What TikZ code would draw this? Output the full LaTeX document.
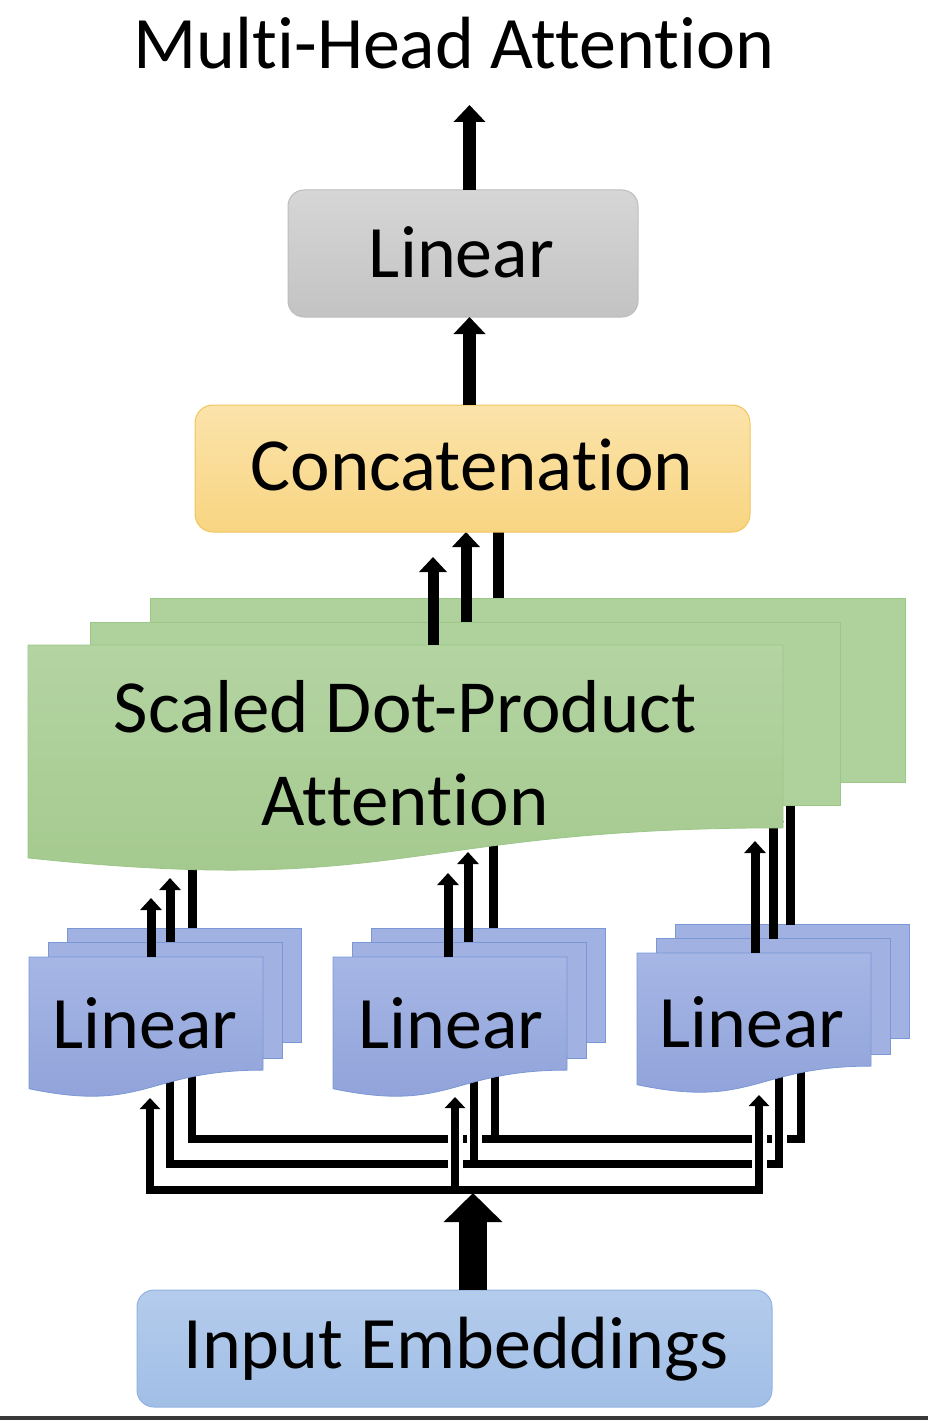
\documentclass[tikz,border=0pt]{standalone}
\usepackage{fontspec}
\setmainfont{Carlito}[Ligatures=NoCommon]
\usetikzlibrary{arrows.meta,shadings}
\definecolor{grayT}{HTML}{D6D6D6}
\definecolor{grayB}{HTML}{C3C3C3}
\definecolor{grayE}{HTML}{BDBDBD}
\definecolor{catT}{HTML}{FBE3AA}
\definecolor{catB}{HTML}{F8D582}
\definecolor{catE}{HTML}{F3C55C}
\definecolor{grnT}{HTML}{B4D4A2}
\definecolor{grnB}{HTML}{A3C98D}
\definecolor{grnL}{HTML}{AFD19C}
\definecolor{grnE}{HTML}{9DC689}
\definecolor{bluT}{HTML}{A6B6E5}
\definecolor{bluB}{HTML}{8FA1D9}
\definecolor{bluL}{HTML}{A0B1E2}
\definecolor{bluE}{HTML}{7A97D6}
\definecolor{inpT}{HTML}{B4CCEC}
\definecolor{inpB}{HTML}{A1BEE6}
\definecolor{inpE}{HTML}{92B3E0}
% document shape: style, x0, y0, w, h
\newcommand\mhdoc[5]{%
  \path[#1] (#2,#3) -- ({#2+#4},#3) -- ({#2+#4},{#3+0.802*#5})
    .. controls ({#2+0.5*#4},{#3+0.802*#5}) and ({#2+0.5*#4},{#3+1.1075*#5})
    .. (#2,{#3+0.934*#5}) -- cycle;}
% stack of three Linear layers: x0, y0 of the front layer
\newcommand\mhstack[2]{%
  \path[bluback] ({#1+38},{#2-29}) rectangle ({#1+272},{#2+85});
  \path[bluback] ({#1+19},{#2-15}) rectangle ({#1+253},{#2+101});
  \mhdoc{blufront}{#1}{#2}{234}{141}}
\begin{document}
\begin{tikzpicture}[x=1pt,y=-1pt,
  lbl/.style={font=\fontsize{74}{88}\selectfont, inner sep=0pt, anchor=base, text=black},
  lblw/.style={font=\fontsize{75}{88}\selectfont, inner sep=0pt, anchor=base, text=black},
  ttl/.style={font=\fontsize{74}{88}\selectfont, inner sep=0pt, anchor=base, text=black},
  rbox/.style={line width=1pt, inner sep=0pt},
  tipTop/.tip={Triangle[width=31pt,length=17pt]},
  tipCat/.tip={Triangle[width=27pt,length=15pt]},
  tipLin/.tip={Triangle[width=21pt,length=12pt]},
  tipBus/.tip={Triangle[width=20pt,length=11pt]},
  tipBig/.tip={Triangle[width=57pt,length=29pt]},
  topar/.style={line width=13pt, arrows=-tipTop},
  catar/.style={line width=11pt, arrows=-tipCat},
  linar/.style={line width=9pt, arrows=-tipLin},
  busar/.style={line width=8.5pt, line join=miter, arrows=tipBus-tipBus},
  busup/.style={line width=8.5pt, arrows=-tipBus},
  casing/.style={draw=white, line width=15pt, line join=miter, arrows=-},
  bigar/.style={line width=28pt, arrows=-tipBig},
  bluback/.style={fill=bluL, draw=bluE, line width=0.8pt},
  blufront/.style={top color=bluT, bottom color=bluB, draw=bluE, line width=0.8pt},
  grnback/.style={fill=grnL, draw=grnE, line width=0.8pt},
  grnfront/.style={top color=grnT, bottom color=grnB, draw=grnE, line width=0.8pt}
]
\useasboundingbox (0,0) rectangle (928,1420);
\fill[white] (0,0) rectangle (928,1420);
\fill[black!78] (0,1416) rectangle (928,1420);

% ---- input embeddings
\node[rbox, rounded corners=17pt, draw=inpE, top color=inpT, bottom color=inpB,
      minimum width=635pt, minimum height=117pt] (inp) at (454.5,1348.5) {};
\node[lbl] (inpText) at (456,1368) {Input Embeddings};

% ---- bus coordinates
\coordinate (jt) at (495,1139);
\coordinate (tL) at (192,1058);
\coordinate (tR) at (801,1056);
\coordinate (tM) at (495,1058);
\coordinate (jm) at (474,1164);
\coordinate (mL) at (170,1060);
\coordinate (mR) at (779,1058);
\coordinate (mM) at (474,1060);
\coordinate (jb) at (455,1190);
\coordinate (bL) at (150,1098);
\coordinate (bR) at (759,1095);
\coordinate (bM) at (455,1097);

% top bus
\draw[casing] (tL) |- (jt) -| (tR);
\draw[casing] (jt) -- (tM);
\draw[busar] (tL) |- (jt) -| (tR);
\draw[busup] (jt) -- (tM);
% middle bus
\draw[casing] (mL) |- (jm) -| (mR);
\draw[casing] (jm) -- (mM);
\draw[busar] (mL) |- (jm) -| (mR);
\draw[busup] (jm) -- (mM);
% bottom bus
\draw[casing] (bL) |- (jb) -| (bR);
\draw[casing] (jb) -- (bM);
\draw[busar] (bL) |- (jb) -| (bR);
\draw[busup] (jb) -- (bM);

% big input arrow
\coordinate (bigS) at (473,1290);
\coordinate (bigE) at (473,1193);
\draw[bigar] (bigS) -- (bigE);

% ---- Linear stacks
\mhstack{29}{957}
\mhstack{333}{957}
\mhstack{637}{953}
\node[lbl] (linL) at (145,1048) {Linear};
\node[lbl] (linM) at (451,1048) {Linear};
\node[lbl] (linR) at (752,1047) {Linear};

% ---- Linear -> attention connectors
\coordinate (lf1) at (151,957); \coordinate (lf2) at (151,898);
\coordinate (lm1) at (170,942); \coordinate (lm2) at (170,878);
\coordinate (lb1) at (192,928); \coordinate (lb2) at (192,850);
\coordinate (mf1) at (448,957); \coordinate (mf2) at (448,873);
\coordinate (mm1) at (468,942); \coordinate (mm2) at (468,852);
\coordinate (mb1) at (493,928); \coordinate (mb2) at (493,830);
\coordinate (rf1) at (755,953); \coordinate (rf2) at (755,841);
\coordinate (rm1) at (773,939); \coordinate (rm2) at (773,810);
\coordinate (rb1) at (790,925); \coordinate (rb2) at (790,788);
\draw[linar] (lb1) -- (lb2);
\draw[linar] (lm1) -- (lm2);
\draw[linar] (lf1) -- (lf2);
\draw[linar] (mb1) -- (mb2);
\draw[linar] (mm1) -- (mm2);
\draw[linar] (mf1) -- (mf2);
\draw[linar] (rb1) -- (rb2);
\draw[linar] (rm1) -- (rm2);
\draw[linar] (rf1) -- (rf2);

% ---- Scaled Dot-Product Attention stack
\path[grnback] (150,598) rectangle (905,782);
\path[grnback] (90,622) rectangle (840,805);
\mhdoc{grnfront}{28}{645}{755}{228}
\node[lblw] (sdp1) at (405,732) {Scaled Dot-Product};
\node[lblw] (sdp2) at (405,825) {Attention};

% ---- attention -> concatenation
\coordinate (cf1) at (433,645); \coordinate (cf2) at (433,557);
\coordinate (cm1) at (466,622); \coordinate (cm2) at (466,532);
\coordinate (cb1) at (498,598); \coordinate (cb2) at (498,512);
\draw[catar] (cb1) -- (cb2);
\draw[catar] (cm1) -- (cm2);
\draw[catar] (cf1) -- (cf2);

% ---- concatenation
\node[rbox, rounded corners=18pt, draw=catE, top color=catT, bottom color=catB,
      minimum width=555pt, minimum height=127pt] (cat) at (472.5,468.5) {};
\node[lblw] (catText) at (472,490) {Concatenation};

% ---- final linear
\node[rbox, rounded corners=16pt, draw=grayE, top color=grayT, bottom color=grayB,
      minimum width=350pt, minimum height=127pt] (lin) at (463,253.5) {};
\node[lbl] (linText) at (461.5,278) {Linear};

\coordinate (a1) at (469.5,405); \coordinate (a2) at (469.5,317);
\coordinate (a3) at (469.5,190); \coordinate (a4) at (469.5,105);
\draw[topar] (a1) -- (a2);
\draw[topar] (a3) -- (a4);

\node[ttl] (title) at (454,69) {Multi-Head Attention};
\end{tikzpicture}
\end{document}
